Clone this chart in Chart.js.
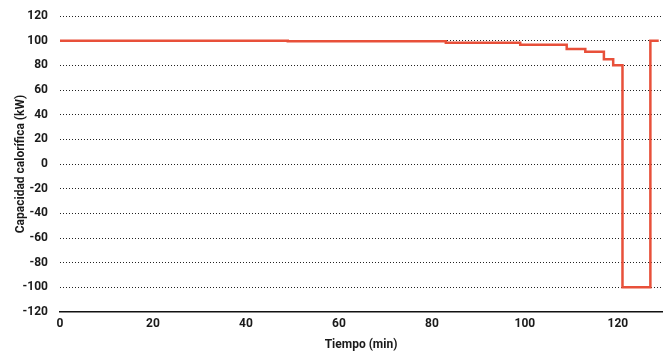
<!DOCTYPE html>
<html><head><meta charset="utf-8">
<script src="https://cdn.jsdelivr.net/npm/chart.js@4"></script>
<style>html,body{margin:0;padding:0;background:#fff}#wrap{width:670px;height:354px}</style>
</head><body><div id="wrap"><canvas id="c" width="670" height="354"></canvas></div>
<script>
const times = [0, 49, 83, 99, 109, 113, 117, 119, 121, 127, 128.8];
const capacity = [100, 99.5, 98.3, 96.6, 93.3, 91, 85, 80, -100, 100, 100];
const xTitle = 'Tiempo (min)';
const yTitle = 'Capacidad calorífica (kW)';
const points = times.map((t, i) => ({x: t, y: capacity[i]}));
const FONT = 'Roboto';
new Chart(document.getElementById('c'), {
  type: 'line',
  data: { datasets: [{ data: points, borderColor: '#E8503A', borderWidth: 2.5, stepped: 'before', pointRadius: 0, fill: false }] },
  options: {
    responsive: false, animation: false,
    layout: { padding: { top: 16, right: 8, left: 14, bottom: 0 } },
    plugins: { legend: { display: false }, tooltip: { enabled: false } },
    scales: {
      x: {
        type: 'linear', min: 0, max: 129.5,
        ticks: { stepSize: 20, includeBounds: false, color: '#1a1a1a', font: { family: FONT, size: 12, weight: 'bold' }, padding: 5, maxRotation: 0 },
        grid: { display: false, drawTicks: false },
        border: { display: true, color: '#111', width: 1.5 },
        title: { display: true, text: xTitle, color: '#1a1a1a', font: { family: FONT, size: 12, weight: 'bold' }, padding: { top: 0, bottom: 2 } },
        afterFit: s => { s.height = 42; s.paddingLeft = 0; s.paddingRight = 0; }
      },
      y: {
        min: -120, max: 120,
        ticks: { stepSize: 20, color: '#1a1a1a', font: { family: FONT, size: 12, weight: 'bold' }, padding: 12 },
        grid: { drawTicks: false, color: ctx => ctx.tick && ctx.tick.value === -120 ? 'rgba(0,0,0,0)' : '#222', lineWidth: 1, borderDash: [1, 2] },
        border: { display: false, dash: [1, 2] },
        title: { display: true, text: yTitle, color: '#1a1a1a', font: { family: FONT, size: 12, weight: 'bold' }, padding: { top: 0, bottom: 0 } },
        afterFit: s => { s.width = 46; s.paddingTop = 0; s.paddingBottom = 0; }
      }
    }
  }
});
</script>
</body></html>
